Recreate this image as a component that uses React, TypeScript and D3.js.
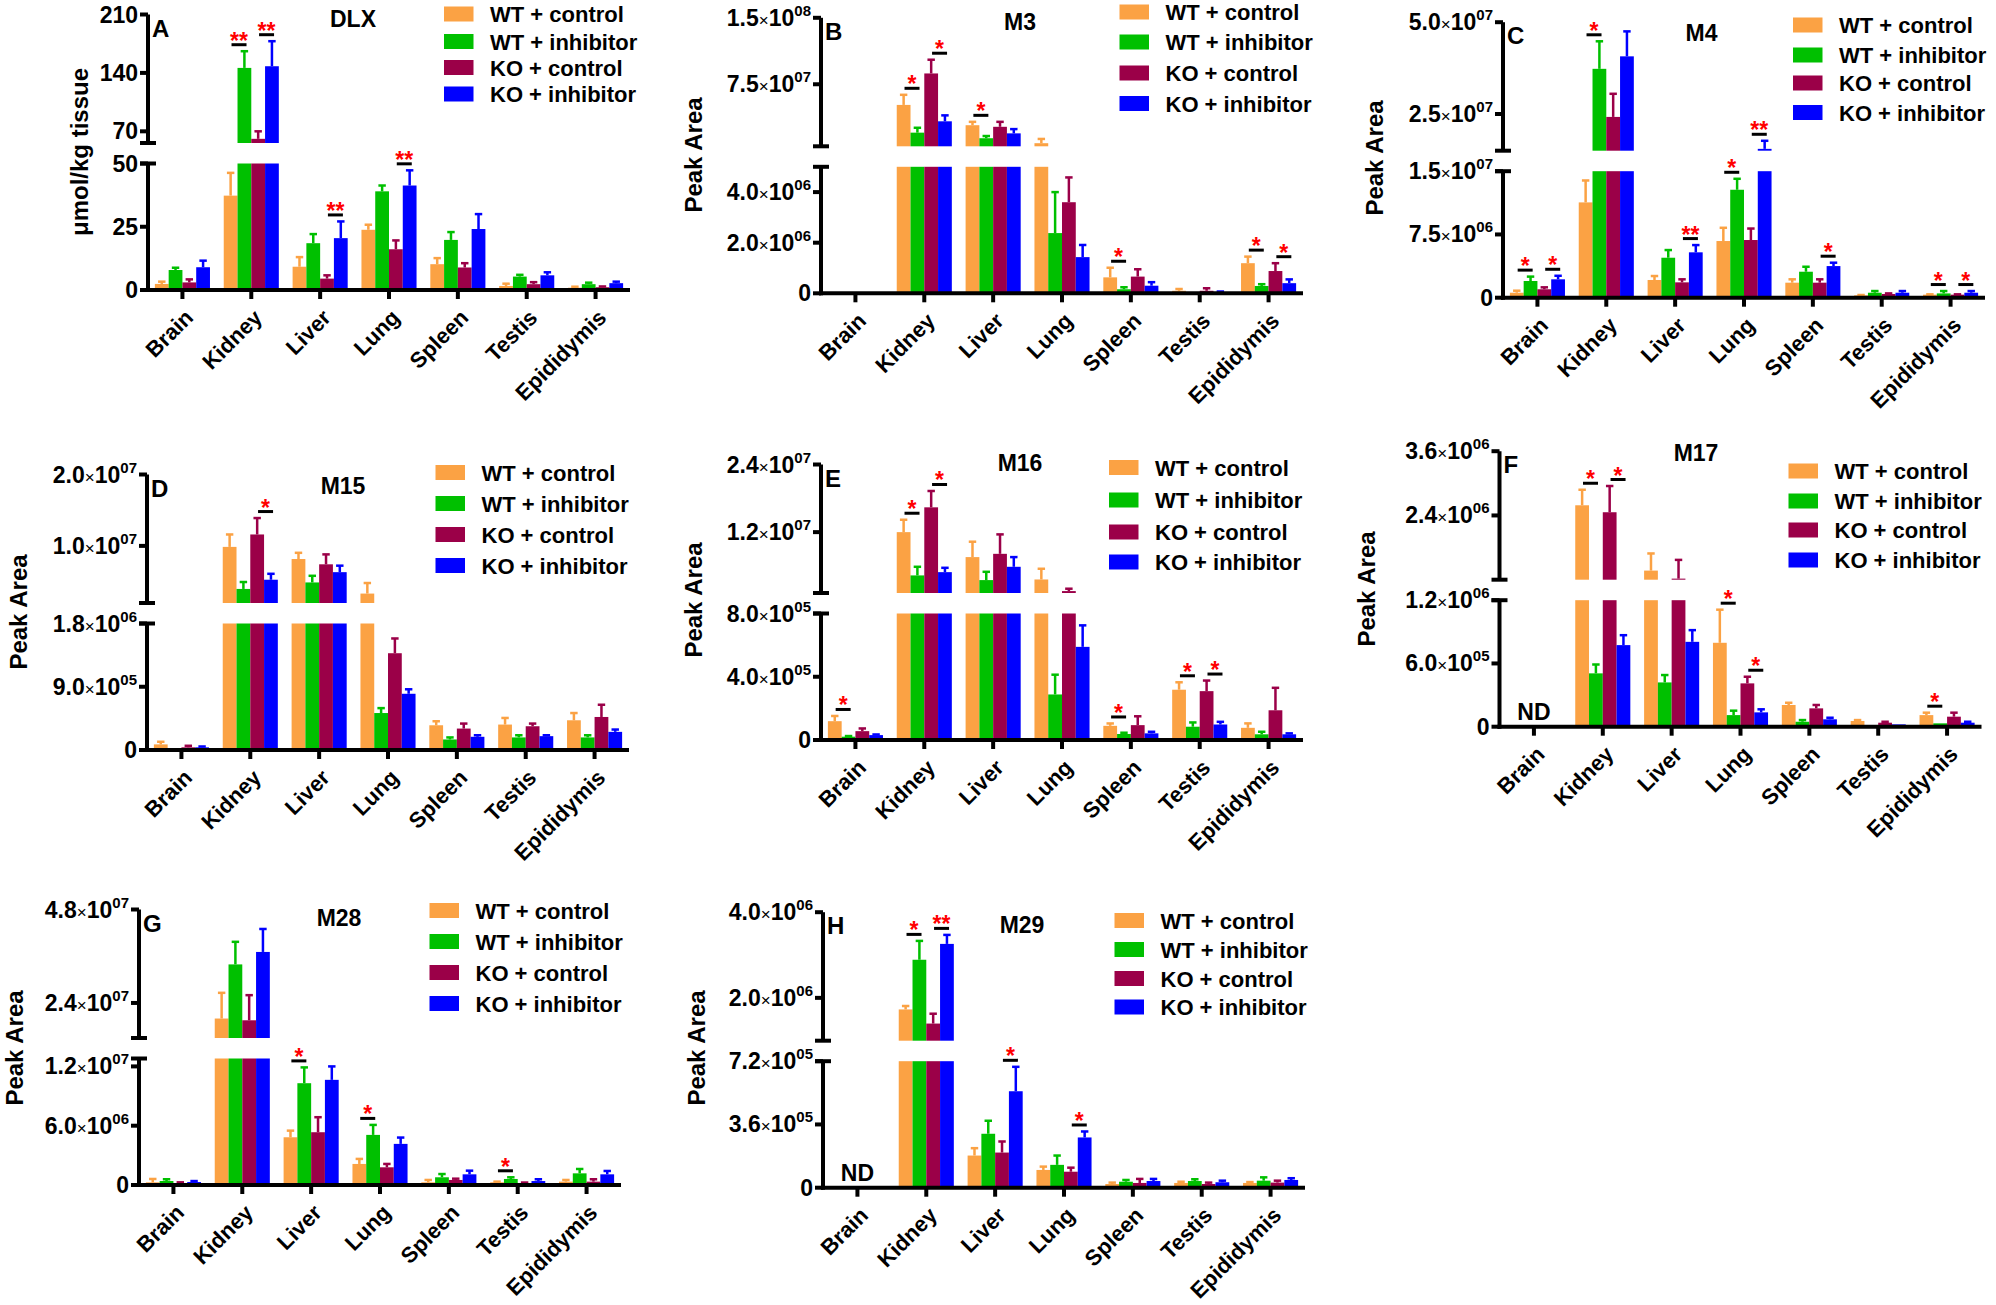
import React from 'react';
import * as d3 from 'd3';

// ---------- shared categories / groups ----------
const categories = ['Brain', 'Kidney', 'Liver', 'Lung', 'Spleen', 'Testis', 'Epididymis'];
const groups = ['WT + control', 'WT + inhibitor', 'KO + control', 'KO + inhibitor'];
const groupColors = ['#FBA244', '#00C000', '#9B0048', '#0000FF'];

// ---------- A: DLX (µmol/kg tissue) ----------
const dlxWtc = [2.4, 37.3, 9.2, 23.8, 10.2, 1.6, 0.9];
const dlxWtcErr = [0.9, 9.0, 3.8, 2.0, 2.4, 0.9, 0.4];
const dlxWti = [7.9, 146, 18.5, 39, 19.8, 5.3, 2.3];
const dlxWtiErr = [0.9, 20, 3.6, 2.3, 3.1, 0.7, 0.6];
const dlxKoc = [3.0, 61, 4.5, 16.1, 8.9, 2.3, 1.1];
const dlxKocErr = [1.2, 9, 1.3, 3.5, 1.7, 0.8, 0.3];
const dlxKoi = [9.0, 148, 20.5, 41.3, 24.1, 5.8, 2.7];
const dlxKoiErr = [2.6, 30, 6.6, 6.0, 5.9, 1.2, 0.6];
const dlxLowerDomain = [0, 50];
const dlxUpperDomain = [56, 210];
const dlxLowerTicks = [0, 25, 50];
const dlxUpperTicks = [70, 140, 210];
const dlxSig: [string, string, number][] = [['Kidney', 'WT', 2], ['Kidney', 'KO', 2], ['Liver', 'KO', 2], ['Lung', 'KO', 2]];

// ---------- B: M3 ----------
const m3Wtc = [0, 5.17e7, 2.88e7, 8.5e6, 6.3e5, 1.0e5, 1.19e6];
const m3WtcErr = [0, 1.14e7, 3.8e6, 4.8e6, 3.8e5, 7e4, 2.6e5];
const m3Wti = [0, 2.04e7, 1.41e7, 2.38e6, 1.6e5, 2e4, 2.9e5];
const m3WtiErr = [0, 5.5e6, 2.5e6, 1.62e6, 8e4, 0, 7e4];
const m3Koc = [0, 8.72e7, 2.7e7, 3.6e6, 6.6e5, 1.0e5, 8.8e5];
const m3KocErr = [0, 1.55e7, 5.6e6, 9.8e5, 2.9e5, 1e5, 3.1e5];
const m3Koi = [0, 3.32e7, 1.96e7, 1.43e6, 3.0e5, 5e4, 4.0e5];
const m3KoiErr = [0, 6.7e6, 4.8e6, 4.8e5, 1.4e5, 2e4, 1.5e5];
const m3LowerDomain = [0, 5e6];
const m3UpperDomain = [5e6, 1.5e8];
const m3LowerTicks = [0, 2e6, 4e6];
const m3UpperTicks = [7.5e7, 1.5e8];
const m3Sig: [string, string, number][] = [['Kidney', 'WT', 1], ['Kidney', 'KO', 1], ['Liver', 'WT', 1], ['Spleen', 'WT', 1], ['Epididymis', 'WT', 1], ['Epididymis', 'KO', 1]];

// ---------- C: M4 ----------
const m4Wtc = [5.9e5, 1.13e7, 2.1e6, 6.72e6, 1.78e6, 2.8e5, 3.6e5];
const m4WtcErr = [2.4e5, 2.6e6, 4.7e5, 1.57e6, 4e5, 4e4, 4e4];
const m4Wti = [1.98e6, 3.73e7, 4.74e6, 1.28e7, 3.08e6, 5.9e5, 5.1e5];
const m4WtiErr = [5.2e5, 7.5e6, 9.1e5, 1.3e6, 5.9e5, 2e5, 2.8e5];
const m4Koc = [1.0e6, 2.42e7, 1.82e6, 6.84e6, 1.78e6, 4.4e5, 3.6e5];
const m4KocErr = [2.3e5, 6.3e6, 3.6e5, 1.36e6, 4e5, 7e4, 4e4];
const m4Koi = [2.18e6, 4.07e7, 5.38e6, 1.55e7, 3.75e6, 5.9e5, 5.9e5];
const m4KoiErr = [4.2e5, 6.8e6, 8.6e5, 2.2e6, 4e5, 2e5, 2e5];
const m4LowerDomain = [0, 1.5e7];
const m4UpperDomain = [1.5e7, 5e7];
const m4LowerTicks = [0, 7.5e6, 1.5e7];
const m4UpperTicks = [2.5e7, 5e7];
const m4Sig: [string, string, number][] = [['Brain', 'WT', 1], ['Brain', 'KO', 1], ['Kidney', 'WT', 1], ['Liver', 'KO', 2], ['Lung', 'WT', 1], ['Lung', 'KO', 2], ['Spleen', 'KO', 1], ['Epididymis', 'WT', 1], ['Epididymis', 'KO', 1]];

// ---------- D: M15 ----------
const m15Wtc = [8.0e4, 9.86e6, 8.16e6, 3.32e6, 3.52e5, 3.62e5, 4.23e5];
const m15WtcErr = [3.7e4, 1.74e6, 8.7e5, 1.48e6, 5.7e4, 9.4e4, 1.03e5];
const m15Wti = [2e4, 3.97e6, 4.88e6, 5.26e5, 1.5e5, 1.79e5, 1.79e5];
const m15WtiErr = [0, 9.7e5, 9.3e5, 7e4, 2.9e4, 3.1e4, 3.1e4];
const m15Koc = [3.8e4, 1.16e7, 7.42e6, 1.377e6, 3.05e5, 3.38e5, 4.7e5];
const m15KocErr = [2.2e4, 2.3e6, 1.39e6, 2.1e5, 7.1e4, 3.8e4, 1.74e5];
const m15Koi = [3.8e4, 5.26e6, 6.32e6, 8.0e5, 1.88e5, 1.97e5, 2.58e5];
const m15KoiErr = [1.2e4, 8.3e5, 9.1e5, 6.4e4, 2.2e4, 1.3e4, 3.3e4];
const m15LowerDomain = [0, 1.8e6];
const m15UpperDomain = [2e6, 2e7];
const m15LowerTicks = [0, 9e5, 1.8e6];
const m15UpperTicks = [1e7, 2e7];
const m15Sig: [string, string, number][] = [['Kidney', 'KO', 1]];

// ---------- E: M16 ----------
const m16Wtc = [1.19e5, 1.2e7, 7.57e6, 3.6e6, 8.96e4, 3.18e5, 7.7e4];
const m16WtcErr = [3.3e4, 2.2e6, 2.73e6, 1.9e6, 1.5e4, 4.7e4, 2.8e4];
const m16Wti = [2.1e4, 4.32e6, 3.49e6, 2.88e5, 3.8e4, 8.4e4, 3.6e4];
const m16WtiErr = [4e3, 1.53e6, 1.47e6, 1.25e5, 8e3, 2.7e4, 1.6e4];
const m16Koc = [5.6e4, 1.64e7, 8.15e6, 1.54e6, 9.4e4, 3.09e5, 1.88e5];
const m16KocErr = [1.7e4, 2.9e6, 3.45e6, 4.2e5, 5.6e4, 6.7e4, 1.42e5];
const m16Koi = [3.1e4, 4.9e6, 5.85e6, 5.89e5, 4.2e4, 9.8e4, 3.6e4];
const m16KoiErr = [4e3, 7.7e5, 1.72e6, 1.36e5, 1e4, 1.7e4, 6e3];
const m16LowerDomain = [0, 8e5];
const m16UpperDomain = [1.2e6, 2.4e7];
const m16LowerTicks = [0, 4e5, 8e5];
const m16UpperTicks = [1.2e7, 2.4e7];
const m16Sig: [string, string, number][] = [['Brain', 'WT', 1], ['Kidney', 'WT', 1], ['Kidney', 'KO', 1], ['Spleen', 'WT', 1], ['Testis', 'WT', 1], ['Testis', 'KO', 1]];

// ---------- F: M17 (Brain not detected) ----------
const m17Wtc = [null, 2.59e6, 1.37e6, 7.96e5, 2.06e5, 5.4e4, 1.1e5];
const m17WtcErr = [0, 2.9e5, 3.2e5, 3.14e5, 2.1e4, 9e3, 2.3e4];
const m17Wti = [null, 5.06e5, 4.2e5, 1.1e5, 4.7e4, 0, 3.2e4];
const m17WtiErr = [0, 8.4e4, 7e4, 4.2e4, 1.6e4, 0, 0];
const m17Koc = [null, 2.46e6, 1.22e6, 4.11e5, 1.74e5, 3.8e4, 9.5e4];
const m17KocErr = [0, 4.9e5, 3.5e5, 6.3e4, 3.2e4, 9e3, 3.8e4];
const m17Koi = [null, 7.74e5, 8.05e5, 1.36e5, 7e4, 2.2e4, 3.8e4];
const m17KoiErr = [0, 9.4e4, 1.11e5, 2.9e4, 1.5e4, 0, 9e3];
const m17LowerDomain = [0, 1.2e6];
const m17UpperDomain = [1.2e6, 3.6e6];
const m17LowerTicks = [0, 6e5, 1.2e6];
const m17UpperTicks = [2.4e6, 3.6e6];
const m17Sig: [string, string, number][] = [['Kidney', 'WT', 1], ['Kidney', 'KO', 1], ['Lung', 'WT', 1], ['Lung', 'KO', 1], ['Epididymis', 'WT', 1]];

// ---------- G: M28 ----------
const m28Wtc = [2.7e5, 2.0e7, 4.83e6, 2.13e6, 2.7e5, 2.7e5, 3.4e5];
const m28WtcErr = [3.4e5, 6.6e6, 6.7e5, 5.1e5, 2.4e5, 7e4, 1.7e5];
const m28Wti = [4.05e5, 3.39e7, 1.03e7, 5.07e6, 7.8e5, 6.1e5, 1.18e6];
const m28WtiErr = [1.75e5, 5.8e6, 1.6e6, 1.01e6, 3.3e5, 1.7e5, 4.4e5];
const m28Koc = [2e5, 1.955e7, 5.34e6, 1.79e6, 5.1e5, 2e5, 3.4e5];
const m28KocErr = [7e4, 6.45e6, 1.52e6, 3.4e5, 1.3e5, 5e4, 2.4e5];
const m28Koi = [3e5, 3.71e7, 1.064e7, 4.16e6, 1.08e6, 4e5, 1.08e6];
const m28KoiErr = [1e5, 5.9e6, 1.36e6, 6.4e5, 3.7e5, 1.8e5, 3.4e5];
const m28LowerDomain = [0, 1.28e7];
const m28UpperDomain = [1.5e7, 4.8e7];
const m28LowerTicks = [0, 6e6, 1.2e7];
const m28UpperTicks = [2.4e7, 4.8e7];
const m28Sig: [string, string, number][] = [['Liver', 'WT', 1], ['Lung', 'WT', 1], ['Testis', 'WT', 1]];

// ---------- H: M29 (Brain not detected) ----------
const m29Wtc = [null, 1.73e6, 1.83e5, 1.01e5, 2.1e4, 2.7e4, 2.7e4];
const m29WtcErr = [0, 8e4, 4.2e4, 1.9e4, 8e3, 7e3, 5e3];
const m29Wti = [null, 2.89e6, 3.07e5, 1.3e5, 3.4e4, 3.8e4, 4e4];
const m29WtiErr = [0, 4.4e5, 7.4e4, 5.3e4, 1e4, 1e4, 1.9e4];
const m29Koc = [null, 1.4e6, 2.0e5, 9.1e4, 2.7e4, 2.1e4, 2.9e4];
const m29KocErr = [0, 2.3e5, 6.3e4, 2.3e4, 2.3e4, 8e3, 1.1e4];
const m29Koi = [null, 3.26e6, 5.49e5, 2.86e5, 3.8e4, 3.1e4, 4.4e4];
const m29KoiErr = [0, 2.1e5, 1.39e5, 3.4e4, 1.2e4, 9e3, 1e4];
const m29LowerDomain = [0, 7.2e5];
const m29UpperDomain = [1e6, 4e6];
const m29LowerTicks = [0, 3.6e5, 7.2e5];
const m29UpperTicks = [2e6, 4e6];
const m29Sig: [string, string, number][] = [['Kidney', 'WT', 1], ['Kidney', 'KO', 2], ['Liver', 'KO', 1], ['Lung', 'KO', 1]];

// ---------- panel table built from the arrays ----------
type Panel = {
  letter: string; title: string; yLabel: string; sci: boolean; nd: boolean;
  means: (number | null)[][]; errs: number[][];
  lowerDomain: number[]; upperDomain: number[]; lowerTicks: number[]; upperTicks: number[];
  sig: [string, string, number][];
};
const panels: Panel[] = [
  { letter: 'A', title: 'DLX', yLabel: 'μmol/kg tissue', sci: false, nd: false, means: [dlxWtc, dlxWti, dlxKoc, dlxKoi], errs: [dlxWtcErr, dlxWtiErr, dlxKocErr, dlxKoiErr], lowerDomain: dlxLowerDomain, upperDomain: dlxUpperDomain, lowerTicks: dlxLowerTicks, upperTicks: dlxUpperTicks, sig: dlxSig },
  { letter: 'B', title: 'M3', yLabel: 'Peak Area', sci: true, nd: false, means: [m3Wtc, m3Wti, m3Koc, m3Koi], errs: [m3WtcErr, m3WtiErr, m3KocErr, m3KoiErr], lowerDomain: m3LowerDomain, upperDomain: m3UpperDomain, lowerTicks: m3LowerTicks, upperTicks: m3UpperTicks, sig: m3Sig },
  { letter: 'C', title: 'M4', yLabel: 'Peak Area', sci: true, nd: false, means: [m4Wtc, m4Wti, m4Koc, m4Koi], errs: [m4WtcErr, m4WtiErr, m4KocErr, m4KoiErr], lowerDomain: m4LowerDomain, upperDomain: m4UpperDomain, lowerTicks: m4LowerTicks, upperTicks: m4UpperTicks, sig: m4Sig },
  { letter: 'D', title: 'M15', yLabel: 'Peak Area', sci: true, nd: false, means: [m15Wtc, m15Wti, m15Koc, m15Koi], errs: [m15WtcErr, m15WtiErr, m15KocErr, m15KoiErr], lowerDomain: m15LowerDomain, upperDomain: m15UpperDomain, lowerTicks: m15LowerTicks, upperTicks: m15UpperTicks, sig: m15Sig },
  { letter: 'E', title: 'M16', yLabel: 'Peak Area', sci: true, nd: false, means: [m16Wtc, m16Wti, m16Koc, m16Koi], errs: [m16WtcErr, m16WtiErr, m16KocErr, m16KoiErr], lowerDomain: m16LowerDomain, upperDomain: m16UpperDomain, lowerTicks: m16LowerTicks, upperTicks: m16UpperTicks, sig: m16Sig },
  { letter: 'F', title: 'M17', yLabel: 'Peak Area', sci: true, nd: true, means: [m17Wtc, m17Wti, m17Koc, m17Koi], errs: [m17WtcErr, m17WtiErr, m17KocErr, m17KoiErr], lowerDomain: m17LowerDomain, upperDomain: m17UpperDomain, lowerTicks: m17LowerTicks, upperTicks: m17UpperTicks, sig: m17Sig },
  { letter: 'G', title: 'M28', yLabel: 'Peak Area', sci: true, nd: false, means: [m28Wtc, m28Wti, m28Koc, m28Koi], errs: [m28WtcErr, m28WtiErr, m28KocErr, m28KoiErr], lowerDomain: m28LowerDomain, upperDomain: m28UpperDomain, lowerTicks: m28LowerTicks, upperTicks: m28UpperTicks, sig: m28Sig },
  { letter: 'H', title: 'M29', yLabel: 'Peak Area', sci: true, nd: true, means: [m29Wtc, m29Wti, m29Koc, m29Koi], errs: [m29WtcErr, m29WtiErr, m29KocErr, m29KoiErr], lowerDomain: m29LowerDomain, upperDomain: m29UpperDomain, lowerTicks: m29LowerTicks, upperTicks: m29UpperTicks, sig: m29Sig },
];

// ---------- layout (positions only) ----------
const LOWER_H = 126.5;
const GAP = 20.5;
const UPPER_H = 128.5;
const PLOT_W = 482;
const layouts = [
  { ax: 148, y0: 290, titleX: 353, titleY: 27, legX: 444, legY: [14, 41.5, 67.5, 94], ylX: 80, ylY: 152 },
  { ax: 821, y0: 293.3, titleX: 1020, titleY: 30, legX: 1119.5, legY: [12, 42, 73, 103.5], ylX: 694, ylY: 155 },
  { ax: 1503, y0: 297.7, titleX: 1701.5, titleY: 41, legX: 1793, legY: [25, 55, 83, 112.5], ylX: 1375, ylY: 158 },
  { ax: 147, y0: 750, titleX: 343, titleY: 493.5, legX: 435.5, legY: [472.5, 503.5, 534.5, 565.5], ylX: 19, ylY: 612 },
  { ax: 821, y0: 740, titleX: 1020, titleY: 471, legX: 1109, legY: [467.5, 500, 532, 562], ylX: 694, ylY: 600 },
  { ax: 1499.5, y0: 726.7, titleX: 1696, titleY: 461, legX: 1788.5, legY: [471, 501, 530, 560], ylX: 1367, ylY: 589 },
  { ax: 139, y0: 1185, titleX: 339, titleY: 926, legX: 429.5, legY: [910.5, 941.5, 972.5, 1003.5], ylX: 15, ylY: 1048 },
  { ax: 823, y0: 1187.7, titleX: 1022, titleY: 933, legX: 1114.5, legY: [920.5, 949.5, 978.5, 1007], ylX: 697, ylY: 1048 },
];

const FONT = '"Liberation Sans", Arial, Helvetica, sans-serif';

function sciParts(v: number): [string, string] {
  let e = Math.floor(Math.log10(v) + 1e-9);
  let m = v / Math.pow(10, e);
  if (m >= 9.95) { m /= 10; e += 1; }
  return [m.toFixed(1), String(e).padStart(2, '0')];
}

function PanelView({ p, L }: { p: Panel; L: typeof layouts[number] }) {
  const { ax, y0 } = L;
  const x = d3.scaleBand<string>().domain(categories).range([ax, ax + PLOT_W]).padding(0);
  const bw = x.bandwidth();
  const xi = d3.scaleBand<string>().domain(groups).range([0.1 * bw, 0.9 * bw]).padding(0);
  const barW = xi.bandwidth();
  const lower = d3.scaleLinear().domain(p.lowerDomain).range([y0, y0 - LOWER_H]);
  const upBottom = y0 - LOWER_H - GAP;
  const upper = d3.scaleLinear().domain(p.upperDomain).range([upBottom, upBottom - UPPER_H]);
  const [, lowMax] = p.lowerDomain;
  const [upMin, upMax] = p.upperDomain;
  const yOf = (v: number) => (v <= lowMax ? lower(v) : upper(Math.max(v, upMin)));

  const bars: JSX.Element[] = [];
  const errs: JSX.Element[] = [];
  p.means.forEach((series, gi) => {
    series.forEach((v, ci) => {
      if (v == null || v <= 0) return;
      const cat = categories[ci];
      const bx = (x(cat) as number) + (xi(groups[gi]) as number);
      const col = groupColors[gi];
      const lt = lower(Math.min(v, lowMax));
      bars.push(<rect key={`l${gi}-${ci}`} x={bx} y={lt} width={barW} height={Math.max(0, y0 - lt)} fill={col} />);
      if (v > upMin) {
        const ut = upper(Math.min(v, upMax));
        bars.push(<rect key={`u${gi}-${ci}`} x={bx} y={ut} width={barW} height={Math.max(0.8, upBottom - ut)} fill={col} />);
      }
      const e = p.errs[gi][ci];
      if (e > 0) {
        const t = v + e;
        const cx = bx + barW / 2;
        if (v < lowMax) {
          errs.push(<line key={`el${gi}-${ci}`} x1={cx} x2={cx} y1={lower(v)} y2={lower(Math.min(t, lowMax))} stroke={col} strokeWidth={2.5} />);
        }
        if (t > upMin) {
          errs.push(<line key={`eu${gi}-${ci}`} x1={cx} x2={cx} y1={upper(Math.max(v, upMin))} y2={upper(Math.min(t, upMax))} stroke={col} strokeWidth={2.5} />);
        }
        const ty = yOf(t);
        errs.push(<line key={`ec${gi}-${ci}`} x1={cx - barW * 0.27} x2={cx + barW * 0.27} y1={ty} y2={ty} stroke={col} strokeWidth={2.5} />);
      }
    });
  });

  const sigs = p.sig.map(([cat, grp, n], i) => {
    const c = grp === 'WT' ? 0 : 2;
    const ci = categories.indexOf(cat);
    const bxBoundary = (x(cat) as number) + (xi(groups[c + 1]) as number) + 1.5;
    const tops = [c, c + 1].map((g) => {
      const v = p.means[g][ci] ?? 0;
      return yOf(v + p.errs[g][ci]);
    });
    const ly = Math.min(...tops) - 6.5;
    return (
      <g key={`s${i}`}>
        <line x1={bxBoundary - 7.5} x2={bxBoundary + 7.5} y1={ly} y2={ly} stroke="#000" strokeWidth={3} />
        <text x={bxBoundary} y={ly + 4} textAnchor="middle" fill="#FF0000" fontSize={23} fontWeight="bold" fontFamily={FONT}>{'*'.repeat(n)}</text>
      </g>
    );
  });

  const tickLabel = (v: number, y: number, key: string) => {
    if (!p.sci || v === 0) {
      return <text key={key} x={ax - 10} y={y + 8} textAnchor="end" fontSize={23} fontWeight="bold" fontFamily={FONT}>{String(v)}</text>;
    }
    const [m, e] = sciParts(v);
    return (
      <text key={key} x={ax - 10} y={y + 8} textAnchor="end" fontSize={23} fontWeight="bold" fontFamily={FONT}>
        <tspan>{m}</tspan>
        <tspan fontSize={17} fontWeight="normal">×</tspan>
        <tspan>10</tspan>
        <tspan fontSize={15} dy={-10}>{e}</tspan>
      </text>
    );
  };

  const lowTop = y0 - LOWER_H;
  const upTop = upBottom - UPPER_H;

  return (
    <g>
      {bars}
      {errs}
      {/* y axis segments */}
      <line x1={ax} x2={ax} y1={y0 + 2} y2={lowTop} stroke="#000" strokeWidth={4} />
      <line x1={ax} x2={ax} y1={upBottom} y2={upTop} stroke="#000" strokeWidth={4} />
      <line x1={ax - 8} x2={ax + 8} y1={lowTop} y2={lowTop} stroke="#000" strokeWidth={4} />
      <line x1={ax - 8} x2={ax + 8} y1={upBottom} y2={upBottom} stroke="#000" strokeWidth={4} />
      {p.lowerTicks.map((v, i) => (
        <g key={`lt${i}`}>
          <line x1={ax - 8} x2={ax} y1={lower(v)} y2={lower(v)} stroke="#000" strokeWidth={4} />
          {tickLabel(v, lower(v), `ltl${i}`)}
        </g>
      ))}
      {p.upperTicks.map((v, i) => (
        <g key={`ut${i}`}>
          <line x1={ax - 8} x2={ax} y1={upper(v)} y2={upper(v)} stroke="#000" strokeWidth={4} />
          {tickLabel(v, upper(v), `utl${i}`)}
        </g>
      ))}
      {/* x axis */}
      <line x1={ax - 2} x2={ax + PLOT_W} y1={y0} y2={y0} stroke="#000" strokeWidth={4} />
      {categories.map((c) => {
        const cx = (x(c) as number) + bw / 2;
        return (
          <g key={`x${c}`}>
            <line x1={cx} x2={cx} y1={y0} y2={y0 + 9} stroke="#000" strokeWidth={4} />
            <text transform={`translate(${cx + 12},${y0 + 29}) rotate(-45)`} textAnchor="end" fontSize={22} fontWeight="bold" fontFamily={FONT}>{c}</text>
          </g>
        );
      })}
      {sigs}
      {p.nd && (
        <text x={(x('Brain') as number) + bw / 2} y={y0 - 7} textAnchor="middle" fontSize={23} fontWeight="bold" fontFamily={FONT}>ND</text>
      )}
      {/* panel letter & title */}
      <text x={ax + 4} y={upTop + 22} fontSize={24} fontWeight="bold" fontFamily={FONT}>{p.letter}</text>
      <text x={L.titleX} y={L.titleY} textAnchor="middle" fontSize={23} fontWeight="bold" fontFamily={FONT}>{p.title}</text>
      {/* y label */}
      <text transform={`translate(${L.ylX + 8},${L.ylY}) rotate(-90)`} textAnchor="middle" fontSize={24} fontWeight="bold" fontFamily={FONT}>{p.yLabel}</text>
      {/* legend */}
      {groups.map((g, i) => (
        <g key={`lg${i}`}>
          <rect x={L.legX} y={L.legY[i] - 7.5} width={29.5} height={15} fill={groupColors[i]} />
          <text x={L.legX + 46} y={L.legY[i] + 8} fontSize={22} fontWeight="bold" fontFamily={FONT}>{g}</text>
        </g>
      ))}
    </g>
  );
}

export default function App() {
  return (
    <svg width={1996} height={1305} style={{ position: 'absolute', left: 0, top: 0, background: '#fff' }}>
      <rect x={0} y={0} width={1996} height={1305} fill="#fff" />
      {panels.map((p, i) => (
        <PanelView key={p.letter} p={p} L={layouts[i]} />
      ))}
    </svg>
  );
}
